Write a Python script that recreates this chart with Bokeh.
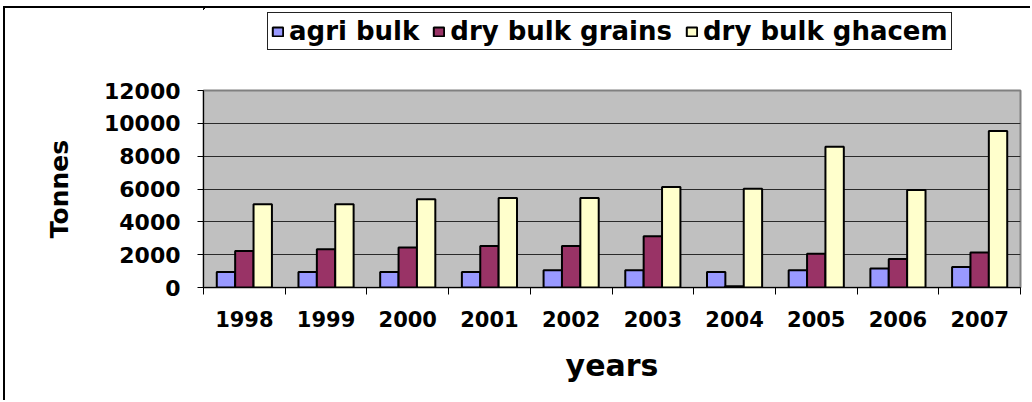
from bokeh.plotting import figure
from bokeh.layouts import column
from bokeh.models import (Range1d, LinearAxis, FixedTicker, Legend, LegendItem,
                          ColumnDataSource)
from bokeh.transform import dodge
from bokeh.embed import file_html
from bokeh.resources import INLINE

years = ["1998", "1999", "2000", "2001", "2002", "2003", "2004", "2005", "2006", "2007"]
agri_bulk = [950, 950, 950, 950, 1050, 1050, 950, 1050, 1150, 1250]
dry_bulk_grains = [2230, 2330, 2430, 2530, 2530, 3120, 80, 2050, 1740, 2130]
dry_bulk_ghacem = [5070, 5070, 5370, 5450, 5450, 6120, 6020, 8570, 5940, 9540]
series_names = ["agri bulk", "dry bulk grains", "dry bulk ghacem"]
series_colors = ["#9999FF", "#993366", "#FFFFCC"]
y_ticks = [0, 2000, 4000, 6000, 8000, 10000, 12000]

FONT = "DejaVu Sans"

n = len(years)
centers = [i + 0.5 for i in range(n)]
src = ColumnDataSource(dict(pos=centers, year=years, agri=agri_bulk,
                            grains=dry_bulk_grains, ghacem=dry_bulk_ghacem))
cols = ["agri", "grains", "ghacem"]

# ---------------- main chart ----------------
p = figure(x_range=Range1d(0, n), y_range=Range1d(0, 12000),
           width=1025, height=322, output_backend="svg", toolbar_location=None,
           x_axis_location=None, y_axis_location="left",
           min_border_left=198, min_border_right=10, min_border_top=12,
           min_border_bottom=113)

p.background_fill_color = "#C0C0C0"
p.outline_line_color = "#808080"
p.outline_line_width = 2
p.xgrid.grid_line_color = None
p.ygrid.grid_line_color = "#2a2a2a"
p.ygrid.grid_line_width = 1
p.ygrid.ticker = FixedTicker(ticks=y_ticks)

ya = p.yaxis[0]
ya.ticker = FixedTicker(ticks=y_ticks)
ya.major_label_text_font = FONT
ya.major_label_text_font_style = "bold"
ya.major_label_text_font_size = "22px"
ya.major_label_text_color = "black"
ya.major_tick_out = 6
ya.major_tick_in = 0
ya.minor_tick_out = 0
ya.minor_tick_in = 0
ya.major_label_standoff = 17
ya.axis_line_color = "black"
ya.axis_line_width = 1
ya.major_tick_line_color = "black"
ya.axis_label = "Tonnes"
ya.axis_label_text_font = FONT
ya.axis_label_text_font_style = "bold"
ya.axis_label_text_font_size = "25px"
ya.axis_label_text_color = "black"
ya.axis_label_standoff = 27

# tick-only axis at category boundaries
tick_axis = LinearAxis(ticker=FixedTicker(ticks=list(range(n + 1))),
                       major_label_overrides={i: "" for i in range(n + 1)},
                       major_label_text_font_size="1px",
                       major_label_standoff=0,
                       major_tick_out=7, major_tick_in=0,
                       minor_tick_out=0, minor_tick_in=0,
                       axis_line_color="black", major_tick_line_color="black")
p.add_layout(tick_axis, "below")

# label axis at category centres
cat_axis = LinearAxis(ticker=FixedTicker(ticks=centers),
                      major_label_overrides={c: y for c, y in zip(centers, years)},
                      major_tick_line_color=None, axis_line_color=None,
                      minor_tick_line_color=None,
                      major_tick_out=0, major_tick_in=0,
                      major_label_text_font=FONT,
                      major_label_text_font_style="bold",
                      major_label_text_font_size="21px",
                      major_label_text_color="black",
                      major_label_standoff=16,
                      axis_label="years",
                      axis_label_text_font=FONT,
                      axis_label_text_font_style="bold",
                      axis_label_text_font_size="30px",
                      axis_label_text_color="black",
                      axis_label_standoff=18)
p.add_layout(cat_axis, "below")

bw = 0.225
offsets = [-bw, 0, bw]
for col, off, color in zip(cols, offsets, series_colors):
    p.vbar(x=dodge("pos", off), top=col, width=bw, source=src,
           fill_color=color, line_color="black", line_width=2)

# ---------------- legend strip (frame aligned with main chart) ----------------
# ranges chosen so that the series bars fall far outside the page: only swatches show
lf = figure(x_range=Range1d(1000 * n, 1001 * n), y_range=Range1d(-200000, -199999),
            width=1025, height=70, output_backend="svg", toolbar_location=None,
            x_axis_location=None, y_axis_location=None,
            min_border_left=0, min_border_right=0, min_border_top=0,
            min_border_bottom=0)
lf.outline_line_color = None
lf.xgrid.visible = False
lf.ygrid.visible = False
lf.background_fill_color = None
legend_renderers = [lf.vbar(x="pos", top=col, width=bw, source=src,
                            fill_color=c, line_color="black", line_width=2)
                    for col, c in zip(cols, series_colors)]

legend = Legend(items=[LegendItem(label=nm, renderers=[r])
                       for nm, r in zip(series_names, legend_renderers)],
                location=(64, 28), orientation="horizontal",
                label_text_font=FONT, label_text_font_style="bold",
                label_text_font_size="26px", label_text_color="black",
                border_line_color="#222222", border_line_width=1, border_line_alpha=1,
                background_fill_color="white", background_fill_alpha=1,
                glyph_width=13, glyph_height=11, label_standoff=5,
                spacing=13, padding=3, margin=0)
lf.add_layout(legend, "center")

layout = column(lf, p, spacing=0,
                styles={"border-top": "2px solid black", "border-left": "2px solid black",
                        "margin-left": "3px", "margin-top": "6px"})

open("out.html", "w").write(file_html(layout, INLINE))
